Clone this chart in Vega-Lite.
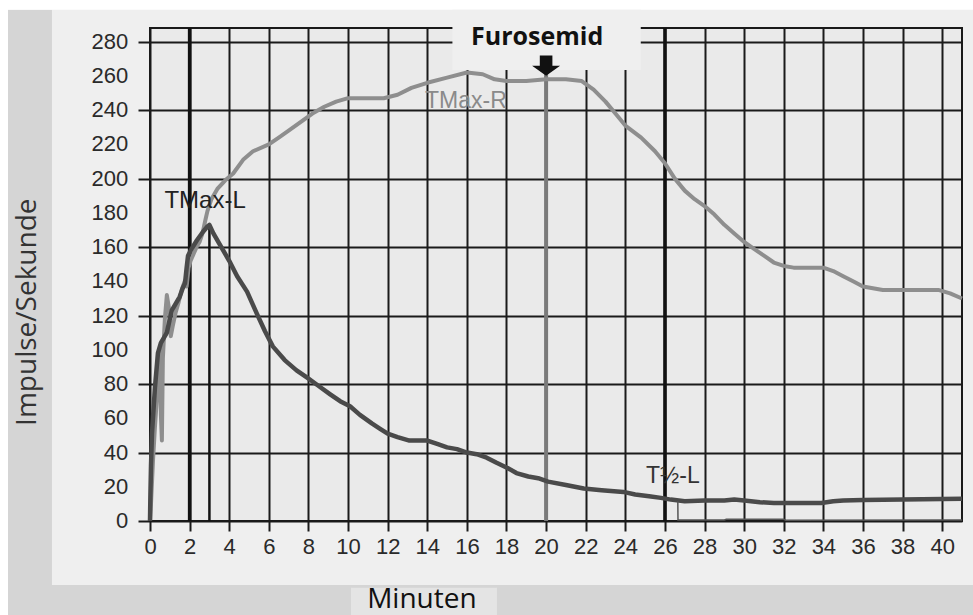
{
  "$schema": "https://vega.github.io/schema/vega-lite/v6.json",
  "width": 812,
  "height": 493,
  "autosize": "none",
  "padding": {"left": 150, "top": 28, "right": 11, "bottom": 94},
  "background": "#efefef",
  "config": {
    "view": {"fill": "#eaeaea", "stroke": "#1a1a1a", "strokeWidth": 2},
    "axis": {
      "grid": true,
      "gridColor": "#1a1a1a",
      "gridWidth": 2,
      "tickColor": "#1a1a1a",
      "tickWidth": 2,
      "domain": false,
      "labelFont": "Liberation Sans",
      "labelFontSize": 22,
      "labelColor": "#2a2a2a",
      "labelOverlap": false,
      "labelFlush": false,
      "title": null
    }
  },
  "datasets": {
    "yticks": [
      {"tick": 0}, {"tick": 20}, {"tick": 40}, {"tick": 60}, {"tick": 80}, {"tick": 100}, {"tick": 120}, {"tick": 140},
      {"tick": 160}, {"tick": 180}, {"tick": 200}, {"tick": 220}, {"tick": 240}, {"tick": 260}, {"tick": 280}
    ],
    "curves": [
      {"t": 0, "v": 0, "s": "R"}, {"t": 0.05, "v": 10, "s": "R"}, {"t": 0.15, "v": 35, "s": "R"}, {"t": 0.25, "v": 55, "s": "R"},
      {"t": 0.35, "v": 72, "s": "R"}, {"t": 0.45, "v": 90, "s": "R"}, {"t": 0.5, "v": 100, "s": "R"}, {"t": 0.55, "v": 62, "s": "R"},
      {"t": 0.6, "v": 47, "s": "R"}, {"t": 0.65, "v": 95, "s": "R"}, {"t": 0.75, "v": 118, "s": "R"}, {"t": 0.85, "v": 132, "s": "R"},
      {"t": 0.95, "v": 125, "s": "R"}, {"t": 1.05, "v": 108, "s": "R"}, {"t": 1.15, "v": 114, "s": "R"}, {"t": 1.3, "v": 122, "s": "R"},
      {"t": 1.45, "v": 128, "s": "R"}, {"t": 1.6, "v": 135, "s": "R"}, {"t": 1.75, "v": 140, "s": "R"}, {"t": 1.85, "v": 137, "s": "R"},
      {"t": 1.95, "v": 148, "s": "R"}, {"t": 2.05, "v": 152, "s": "R"}, {"t": 2.2, "v": 156, "s": "R"}, {"t": 2.35, "v": 160, "s": "R"},
      {"t": 2.5, "v": 163, "s": "R"}, {"t": 2.65, "v": 168, "s": "R"}, {"t": 2.8, "v": 176, "s": "R"}, {"t": 2.9, "v": 181, "s": "R"},
      {"t": 3.1, "v": 188, "s": "R"}, {"t": 3.4, "v": 194, "s": "R"}, {"t": 3.8, "v": 199, "s": "R"}, {"t": 4.2, "v": 203, "s": "R"},
      {"t": 4.7, "v": 211, "s": "R"}, {"t": 5.2, "v": 216, "s": "R"}, {"t": 6.0, "v": 220, "s": "R"}, {"t": 6.5, "v": 224, "s": "R"},
      {"t": 7.0, "v": 228, "s": "R"}, {"t": 7.6, "v": 233, "s": "R"}, {"t": 8.2, "v": 238, "s": "R"}, {"t": 8.8, "v": 242, "s": "R"},
      {"t": 9.4, "v": 245, "s": "R"}, {"t": 10.0, "v": 247, "s": "R"}, {"t": 11.0, "v": 247, "s": "R"}, {"t": 11.8, "v": 247, "s": "R"},
      {"t": 12.5, "v": 249, "s": "R"}, {"t": 13.2, "v": 253, "s": "R"}, {"t": 14.0, "v": 256, "s": "R"}, {"t": 15.0, "v": 259, "s": "R"},
      {"t": 16.0, "v": 262, "s": "R"}, {"t": 16.8, "v": 261, "s": "R"}, {"t": 17.4, "v": 258, "s": "R"}, {"t": 18.0, "v": 257, "s": "R"},
      {"t": 19.0, "v": 257, "s": "R"}, {"t": 20.0, "v": 258, "s": "R"}, {"t": 21.0, "v": 258, "s": "R"}, {"t": 21.8, "v": 257, "s": "R"},
      {"t": 22.4, "v": 252, "s": "R"}, {"t": 23.0, "v": 245, "s": "R"}, {"t": 23.5, "v": 238, "s": "R"}, {"t": 24.0, "v": 231, "s": "R"},
      {"t": 24.8, "v": 224, "s": "R"}, {"t": 25.5, "v": 216, "s": "R"}, {"t": 26.0, "v": 209, "s": "R"}, {"t": 26.5, "v": 200, "s": "R"},
      {"t": 27.0, "v": 193, "s": "R"}, {"t": 27.5, "v": 188, "s": "R"}, {"t": 28.0, "v": 184, "s": "R"}, {"t": 28.5, "v": 179, "s": "R"},
      {"t": 29.0, "v": 173, "s": "R"}, {"t": 29.5, "v": 168, "s": "R"}, {"t": 30.0, "v": 163, "s": "R"}, {"t": 30.5, "v": 159, "s": "R"},
      {"t": 31.0, "v": 155, "s": "R"}, {"t": 31.5, "v": 151, "s": "R"}, {"t": 32.0, "v": 149, "s": "R"}, {"t": 32.5, "v": 148, "s": "R"},
      {"t": 33.0, "v": 148, "s": "R"}, {"t": 33.5, "v": 148, "s": "R"}, {"t": 34.0, "v": 148, "s": "R"}, {"t": 34.5, "v": 146, "s": "R"},
      {"t": 35.0, "v": 143, "s": "R"}, {"t": 35.5, "v": 140, "s": "R"}, {"t": 36.0, "v": 137, "s": "R"}, {"t": 36.5, "v": 136, "s": "R"},
      {"t": 37.0, "v": 135, "s": "R"}, {"t": 38.0, "v": 135, "s": "R"}, {"t": 39.0, "v": 135, "s": "R"}, {"t": 39.8, "v": 135, "s": "R"},
      {"t": 40.4, "v": 133, "s": "R"}, {"t": 41.0, "v": 130, "s": "R"},

      {"t": 0, "v": 0, "s": "L"}, {"t": 0.02, "v": 15, "s": "L"}, {"t": 0.05, "v": 32, "s": "L"}, {"t": 0.1, "v": 51, "s": "L"},
      {"t": 0.25, "v": 78, "s": "L"}, {"t": 0.4, "v": 98, "s": "L"}, {"t": 0.55, "v": 104, "s": "L"}, {"t": 0.7, "v": 107, "s": "L"},
      {"t": 0.85, "v": 110, "s": "L"}, {"t": 1.0, "v": 118, "s": "L"}, {"t": 1.1, "v": 123, "s": "L"}, {"t": 1.3, "v": 127, "s": "L"},
      {"t": 1.5, "v": 131, "s": "L"}, {"t": 1.65, "v": 136, "s": "L"}, {"t": 1.77, "v": 139, "s": "L"}, {"t": 1.85, "v": 148, "s": "L"},
      {"t": 1.92, "v": 155, "s": "L"}, {"t": 2.1, "v": 159, "s": "L"}, {"t": 2.37, "v": 164, "s": "L"}, {"t": 2.68, "v": 169, "s": "L"},
      {"t": 2.9, "v": 172, "s": "L"}, {"t": 3.0, "v": 173, "s": "L"}, {"t": 3.2, "v": 168, "s": "L"}, {"t": 3.6, "v": 160, "s": "L"},
      {"t": 4.0, "v": 152, "s": "L"}, {"t": 4.4, "v": 143, "s": "L"}, {"t": 4.9, "v": 134, "s": "L"}, {"t": 5.4, "v": 121, "s": "L"},
      {"t": 5.8, "v": 111, "s": "L"}, {"t": 6.2, "v": 102, "s": "L"}, {"t": 6.8, "v": 94, "s": "L"}, {"t": 7.4, "v": 88, "s": "L"},
      {"t": 7.9, "v": 84, "s": "L"}, {"t": 8.5, "v": 79, "s": "L"}, {"t": 9.1, "v": 74, "s": "L"}, {"t": 9.6, "v": 70, "s": "L"},
      {"t": 10.1, "v": 67, "s": "L"}, {"t": 10.6, "v": 62, "s": "L"}, {"t": 11.2, "v": 57, "s": "L"}, {"t": 11.6, "v": 54, "s": "L"},
      {"t": 12.0, "v": 51, "s": "L"}, {"t": 12.5, "v": 49, "s": "L"}, {"t": 13.1, "v": 47, "s": "L"}, {"t": 14.0, "v": 47, "s": "L"},
      {"t": 14.5, "v": 45, "s": "L"}, {"t": 15.0, "v": 43, "s": "L"}, {"t": 15.5, "v": 42, "s": "L"}, {"t": 16.0, "v": 40, "s": "L"},
      {"t": 16.5, "v": 39, "s": "L"}, {"t": 17.0, "v": 37, "s": "L"}, {"t": 17.5, "v": 34, "s": "L"}, {"t": 18.05, "v": 31, "s": "L"},
      {"t": 18.5, "v": 28, "s": "L"}, {"t": 19.1, "v": 26, "s": "L"}, {"t": 19.6, "v": 25, "s": "L"}, {"t": 20.1, "v": 23, "s": "L"},
      {"t": 21.0, "v": 21, "s": "L"}, {"t": 21.9, "v": 19, "s": "L"}, {"t": 22.8, "v": 18, "s": "L"}, {"t": 23.9, "v": 17, "s": "L"},
      {"t": 24.5, "v": 15.5, "s": "L"}, {"t": 25.2, "v": 14.5, "s": "L"}, {"t": 25.8, "v": 13.5, "s": "L"}, {"t": 26.3, "v": 12.5, "s": "L"},
      {"t": 27.0, "v": 11.5, "s": "L"}, {"t": 28.0, "v": 12, "s": "L"}, {"t": 29.0, "v": 12, "s": "L"}, {"t": 29.5, "v": 12.5, "s": "L"},
      {"t": 30.0, "v": 12, "s": "L"}, {"t": 30.8, "v": 11, "s": "L"}, {"t": 31.5, "v": 10.5, "s": "L"}, {"t": 32.5, "v": 10.5, "s": "L"},
      {"t": 33.9, "v": 10.5, "s": "L"}, {"t": 34.5, "v": 11.5, "s": "L"}, {"t": 35.0, "v": 12, "s": "L"}, {"t": 36.0, "v": 12.3, "s": "L"},
      {"t": 38.0, "v": 12.5, "s": "L"}, {"t": 40.0, "v": 12.8, "s": "L"}, {"t": 41.0, "v": 13, "s": "L"},

      {"t": 26.65, "v": 11.5, "s": "B"}, {"t": 26.66, "v": 0.6, "s": "B"}, {"t": 29.0, "v": 0.6, "s": "B"}, {"t": 29.1, "v": 1.0, "s": "B"},
      {"t": 32.0, "v": 1.0, "s": "B"}, {"t": 32.1, "v": 0.5, "s": "B"}, {"t": 41.0, "v": 0.6, "s": "B"}
    ]
  },
  "layer": [
    {
      "data": {"values": [{}]},
      "mark": {"type": "rect", "color": "#d5d5d5"},
      "encoding": {
        "x": {
          "datum": -7.17, "type": "quantitative",
          "scale": {"domain": [0, 41], "nice": false, "zero": false},
          "axis": {"values": [0, 2, 4, 6, 8, 10, 12, 14, 16, 18, 20, 22, 24, 26, 28, 30, 32, 34, 36, 38, 40], "tickSize": 10, "labelPadding": 5}
        },
        "x2": {"datum": -4.95},
        "y": {
          "datum": -56, "type": "quantitative",
          "scale": {"domain": [0, 288], "nice": false, "zero": true},
          "axis": {"values": [0, 20, 40, 60, 80, 100, 120, 140, 160, 180, 200, 220, 240, 260, 280], "tickSize": 12, "labels": false}
        },
        "y2": {"datum": 298.6}
      }
    },
    {
      "data": {"values": [{}]},
      "mark": {"type": "rect", "color": "#d5d5d5"},
      "encoding": {
        "x": {"datum": -7.17, "type": "quantitative"}, "x2": {"datum": 42},
        "y": {"datum": -56, "type": "quantitative"}, "y2": {"datum": -37.4}
      }
    },
    {
      "data": {"values": [{}]},
      "mark": {"type": "rect", "color": "#e4e4e4"},
      "encoding": {
        "x": {"datum": 10.15, "type": "quantitative"}, "x2": {"datum": 17.52},
        "y": {"datum": -56, "type": "quantitative"}, "y2": {"datum": -39}
      }
    },
    {
      "data": {"values": [{}]},
      "mark": {"type": "rect", "color": "#ffffff"},
      "encoding": {
        "x": {"datum": -8, "type": "quantitative"}, "x2": {"datum": 42},
        "y": {"datum": 298.6, "type": "quantitative"}, "y2": {"datum": 310}
      }
    },
    {
      "data": {"values": [{}]},
      "mark": {"type": "rect", "color": "#ffffff"},
      "encoding": {
        "x": {"datum": -8, "type": "quantitative"}, "x2": {"datum": -7.17},
        "y": {"datum": -56, "type": "quantitative"}, "y2": {"datum": 310}
      }
    },
    {
      "data": {"values": [{}]},
      "mark": {"type": "rect", "color": "#efefef"},
      "encoding": {
        "x": {"datum": 15.27, "type": "quantitative"}, "x2": {"datum": 24.78},
        "y": {"datum": 263.5, "type": "quantitative"}, "y2": {"datum": 298.6}
      }
    },
    {
      "data": {"name": "yticks"},
      "mark": {"type": "text", "font": "Liberation Sans", "fontSize": 22, "color": "#2a2a2a", "align": "right", "baseline": "middle"},
      "encoding": {
        "x": {"datum": -1.1, "type": "quantitative"},
        "y": {"field": "tick", "type": "quantitative"},
        "text": {"field": "tick", "type": "quantitative"}
      }
    },
    {
      "data": {"values": [{}]},
      "mark": {"type": "rule", "color": "#111111", "strokeWidth": 3.5},
      "encoding": {"x": {"datum": 2, "type": "quantitative"}}
    },
    {
      "data": {"values": [{}]},
      "mark": {"type": "rule", "color": "#111111", "strokeWidth": 2.5},
      "encoding": {
        "x": {"datum": 3, "type": "quantitative"},
        "y": {"datum": 0, "type": "quantitative"}, "y2": {"datum": 173}
      }
    },
    {
      "data": {"values": [{}]},
      "mark": {"type": "rule", "color": "#7a7a7a", "strokeWidth": 4},
      "encoding": {
        "x": {"datum": 20, "type": "quantitative"},
        "y": {"datum": 0, "type": "quantitative"}, "y2": {"datum": 263.5}
      }
    },
    {
      "data": {"values": [{}]},
      "mark": {"type": "rule", "color": "#111111", "strokeWidth": 3.5},
      "encoding": {"x": {"datum": 26, "type": "quantitative"}}
    },
    {
      "data": {"name": "curves"},
      "transform": [{"filter": "datum.s === 'R'"}],
      "mark": {"type": "line", "color": "#8e8e8e", "strokeWidth": 4, "strokeJoin": "round"},
      "encoding": {
        "x": {"field": "t", "type": "quantitative"},
        "y": {"field": "v", "type": "quantitative"}
      }
    },
    {
      "data": {"name": "curves"},
      "transform": [{"filter": "datum.s === 'L'"}],
      "mark": {"type": "line", "color": "#4a4a4a", "strokeWidth": 4.5, "strokeJoin": "round"},
      "encoding": {
        "x": {"field": "t", "type": "quantitative"},
        "y": {"field": "v", "type": "quantitative"}
      }
    },
    {
      "data": {"name": "curves"},
      "transform": [{"filter": "datum.s === 'B'"}],
      "mark": {"type": "line", "color": "#555555", "strokeWidth": 1.5},
      "encoding": {
        "x": {"field": "t", "type": "quantitative"},
        "y": {"field": "v", "type": "quantitative"}
      }
    },
    {
      "data": {"values": [{"label": "TMax-L"}]},
      "mark": {"type": "text", "font": "Liberation Sans", "fontSize": 24, "color": "#222222", "align": "center", "baseline": "alphabetic"},
      "encoding": {"x": {"datum": 2.78, "type": "quantitative"}, "y": {"datum": 183, "type": "quantitative"}, "text": {"field": "label"}}
    },
    {
      "data": {"values": [{"label": "TMax-R"}]},
      "mark": {"type": "text", "font": "Liberation Sans", "fontSize": 23, "color": "#8a8a8a", "align": "center", "baseline": "alphabetic"},
      "encoding": {"x": {"datum": 15.95, "type": "quantitative"}, "y": {"datum": 241, "type": "quantitative"}, "text": {"field": "label"}}
    },
    {
      "data": {"values": [{"label": "T½-L"}]},
      "mark": {"type": "text", "font": "Liberation Sans", "fontSize": 23, "color": "#333333", "align": "center", "baseline": "alphabetic"},
      "encoding": {"x": {"datum": 26.4, "type": "quantitative"}, "y": {"datum": 22.2, "type": "quantitative"}, "text": {"field": "label"}}
    },
    {
      "data": {"values": [{"label": "Furosemid"}]},
      "mark": {"type": "text", "font": "Open Sans", "fontWeight": "bold", "fontSize": 25, "color": "#111111", "align": "center", "baseline": "alphabetic"},
      "encoding": {"x": {"datum": 19.55, "type": "quantitative"}, "y": {"datum": 278.3, "type": "quantitative"}, "text": {"field": "label"}}
    },
    {
      "data": {"values": [{}]},
      "mark": {"type": "point", "shape": "M-0.45,-0.72L0.45,-0.72L0.45,0L1,0L0,0.72L-1,0L-0.45,0Z", "size": 784, "filled": true, "color": "#111111", "opacity": 1},
      "encoding": {"x": {"datum": 20, "type": "quantitative"}, "y": {"datum": 266, "type": "quantitative"}}
    },
    {
      "data": {"values": [{"label": "Impulse/Sekunde"}]},
      "mark": {"type": "text", "font": "Open Sans", "fontSize": 28, "color": "#333333", "align": "center", "baseline": "middle", "angle": 270},
      "encoding": {"x": {"datum": -6.17, "type": "quantitative"}, "y": {"datum": 122, "type": "quantitative"}, "text": {"field": "label"}}
    },
    {
      "data": {"values": [{"label": "Minuten"}]},
      "mark": {"type": "text", "font": "Open Sans", "fontSize": 28, "color": "#111111", "align": "center", "baseline": "middle"},
      "encoding": {"x": {"datum": 13.73, "type": "quantitative"}, "y": {"datum": -46.2, "type": "quantitative"}, "text": {"field": "label"}}
    }
  ]
}
